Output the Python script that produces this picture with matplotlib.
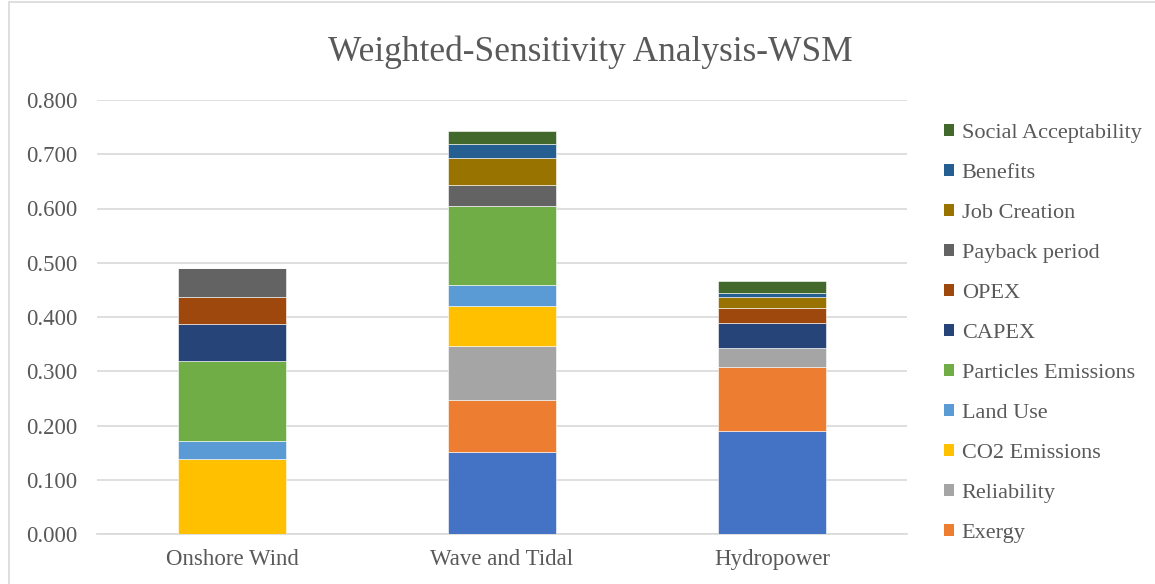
import matplotlib
matplotlib.use("Agg")
import matplotlib.pyplot as plt
from matplotlib.patches import Patch, Rectangle
import numpy as np

plt.rcParams['font.family'] = ['Liberation Serif', 'DejaVu Serif']

categories = ["Onshore Wind", "Wave and Tidal", "Hydropower"]

# series listed bottom to top
series_names = ["Efficiency", "Exergy", "Reliability", "CO2 Emissions", "Land Use",
                "Particles Emissions", "CAPEX", "OPEX", "Payback period",
                "Job Creation", "Benefits", "Social Acceptability"]
efficiency = [0.000, 0.151, 0.189]
exergy = [0.000, 0.096, 0.119]
reliability = [0.000, 0.100, 0.034]
co2 = [0.138, 0.074, 0.000]
land_use = [0.033, 0.038, 0.000]
particles = [0.148, 0.146, 0.000]
capex = [0.069, 0.000, 0.047]
opex = [0.048, 0.000, 0.028]
payback = [0.054, 0.038, 0.000]
job = [0.000, 0.050, 0.020]
benefits = [0.000, 0.026, 0.008]
social = [0.000, 0.023, 0.022]
values = [efficiency, exergy, reliability, co2, land_use, particles,
          capex, opex, payback, job, benefits, social]
colors = ["#4472C4", "#ED7D31", "#A5A5A5", "#FFC000", "#5B9BD5", "#70AD47",
          "#264478", "#9E480E", "#636363", "#997300", "#255E91", "#43682B"]

yticks = [0.0, 0.1, 0.2, 0.3, 0.4, 0.5, 0.6, 0.7, 0.8]
ytick_labels = ["0.000", "0.100", "0.200", "0.300", "0.400", "0.500", "0.600", "0.700", "0.800"]

W, H = 1155, 584
fig = plt.figure(figsize=(W / 100, H / 100), dpi=100)
ax = fig.add_axes([97 / W, 1 - 534 / H, (907 - 97) / W, (534 - 100) / H])

text_color = "#595959"
x = np.arange(len(categories))
bottom = np.zeros(len(categories))
handles = []
for name, vals, c in zip(series_names, values, colors):
    v = np.array(vals)
    ax.bar(x, v, width=0.4, bottom=bottom, color=c, edgecolor="white", linewidth=0.4, zorder=3)
    bottom += v
    handles.append(Patch(facecolor=c, edgecolor="none", label=name))

ax.set_xlim(-0.5, 2.5)
ax.set_ylim(0, 0.8)
ax.set_yticks(yticks)
ax.set_yticklabels(ytick_labels)
ax.set_xticks(x)
ax.set_xticklabels(categories)
ax.grid(axis="y", color="#D9D9D9", linewidth=1.2, zorder=0)
for s in ["left", "right", "top"]:
    ax.spines[s].set_visible(False)
ax.spines["bottom"].set_color("#D9D9D9")
ax.spines["bottom"].set_linewidth(1.2)
ax.tick_params(axis="both", length=0, labelsize=16.5, colors=text_color)
ax.tick_params(axis="x", pad=11)
ax.tick_params(axis="y", pad=14)

fig.text(590 / W, 1 - 52 / H, "Weighted-Sensitivity Analysis-WSM", ha="center", va="center",
         fontsize=25.5, color=text_color)

# legend (bottom series not shown, as in the reference)
leg_handles = handles[1:][::-1]
leg = fig.legend(handles=leg_handles, loc="upper left", bbox_to_anchor=(935 / W, 1 - 115 / H),
                 frameon=False, fontsize=16, handlelength=0.45, handleheight=0.45,
                 handletextpad=0.35, labelspacing=0.945, borderaxespad=0)
for t in leg.get_texts():
    t.set_color(text_color)

# chart frame
fig.patches.append(Rectangle((9 / W, -0.05), (W + 20) / W, 1.05 - 2 / H, transform=fig.transFigure,
                             fill=False, edgecolor="#D9D9D9", linewidth=1.2))

fig.savefig("out.png", dpi=100)
